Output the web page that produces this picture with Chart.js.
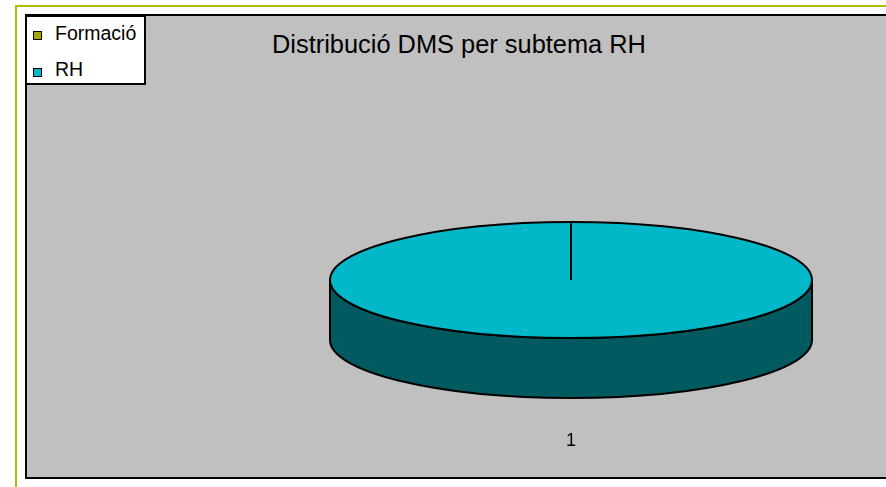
<!DOCTYPE html>
<html lang="ca">
<head>
<meta charset="utf-8">
<title>Distribució DMS per subtema RH</title>
<script src="https://cdn.jsdelivr.net/npm/chart.js@4/dist/chart.umd.min.js"></script>
<style>
  html, body { margin: 0; padding: 0; background: #fff; overflow: hidden; }
  body { width: 886px; height: 487px; position: relative; font-family: "Liberation Sans", Arial, sans-serif; }
  #marc { position: absolute; left: 15px; top: 5px; width: 900px; height: 500px;
          border-left: 2px solid #B0BA00; border-top: 2px solid #B0BA00; }
  #area { position: absolute; left: 25px; top: 14px; width: 900px; height: 461px;
          background: #C0C0C0; border: 2px solid #000; }
  #titol { position: absolute; left: 259px; top: 32px; width: 400px; text-align: center;
           font-size: 25.4px; line-height: 25px; color: #000; white-space: nowrap; }
  #llegenda { position: absolute; left: 26px; top: 16px; width: 117px; height: 66px;
              background: #fff; border: 1px solid #000; border-width: 1px 2px 2px 1px; }
  .item { position: absolute; left: 0; font-size: 19.5px; line-height: 19px; white-space: nowrap; }
  .quadre { position: absolute; width: 7px; height: 7px; border: 1px solid #000; }
  .text { position: absolute; left: 28px; top: 0; }
  #contenidor { position: absolute; left: 320px; top: 212px; width: 510px; height: 250px; }
</style>
</head>
<body>
<div id="marc"></div>
<div id="area"></div>
<div id="titol">Distribució DMS per subtema RH</div>
<div id="llegenda"></div>
<div id="contenidor"><canvas id="grafic"></canvas></div>
<script>
// dades del gràfic
const categories = ['Formació', 'RH'];
const valors = [0, 100];
const etiquetesEix = ['1'];

// estil
const colorsCara = ['#A0A800', '#00B8C8'];
const colorsLateral = ['#555900', '#005A60'];
const gruix = 60; // alçada del cilindre en px

// llegenda en html
const llegenda = document.getElementById('llegenda');
const filesTop = [7, 43];
categories.forEach((cat, i) => {
  const item = document.createElement('div');
  item.className = 'item';
  item.style.top = filesTop[i] + 'px';
  item.innerHTML = '<span class="quadre" style="left:6px;top:' + (i === 0 ? 7 : 8) + 'px;background:' + colorsCara[i] + '"></span>' +
    '<span class="text">' + cat + '</span>';
  llegenda.appendChild(item);
});

function geometria(chart) {
  const area = chart.chartArea;
  const arc = chart.getDatasetMeta(0).data[0];
  const rx = area.width / 2;
  const ry = (area.height - gruix) / 2;
  return {
    cx: (area.left + area.right) / 2,
    cy: area.top + ry,
    rx: rx,
    ry: ry,
    x0: arc.x,
    y0: arc.y,
    r: arc.outerRadius
  };
}

// tram visible (davanter) d'un sector: angles entre 0 i PI
function tramDavanter(s, e) {
  const trams = [];
  [-2, 0, 2].forEach(k => {
    const lo = Math.max(s, k * Math.PI);
    const hi = Math.min(e, Math.PI + k * Math.PI);
    if (hi > lo) trams.push([lo - k * Math.PI, hi - k * Math.PI]);
  });
  return trams;
}

const pastis3D = {
  id: 'pastis3D',
  beforeDatasetsDraw(chart) {
    const ctx = chart.ctx;
    const arcs = chart.getDatasetMeta(0).data;
    const g = geometria(chart);

    // lateral del cilindre
    ctx.save();
    ctx.lineWidth = 2;
    ctx.strokeStyle = '#000';
    arcs.forEach((arc, i) => {
      tramDavanter(arc.startAngle, arc.endAngle).forEach(([a, b]) => {
        ctx.beginPath();
        ctx.ellipse(g.cx, g.cy, g.rx, g.ry, 0, a, b);
        ctx.ellipse(g.cx, g.cy + gruix, g.rx, g.ry, 0, b, a, true);
        ctx.closePath();
        ctx.fillStyle = colorsLateral[i];
        ctx.fill();
        ctx.stroke();
      });
    });
    ctx.restore();

    // la cara de dalt la dibuixa Chart.js, aixafada
    ctx.save();
    ctx.translate(g.cx, g.cy);
    ctx.scale(g.rx / g.r, g.ry / g.r);
    ctx.translate(-g.x0, -g.y0);
  },
  afterDatasetsDraw(chart) {
    const ctx = chart.ctx;
    ctx.restore();
    const arcs = chart.getDatasetMeta(0).data;
    const g = geometria(chart);

    ctx.save();
    ctx.lineWidth = 2;
    ctx.strokeStyle = '#000';
    ctx.beginPath();
    ctx.ellipse(g.cx, g.cy, g.rx, g.ry, 0, 0, Math.PI * 2);
    ctx.stroke();
    // vores entre sectors
    arcs.forEach(arc => {
      ctx.beginPath();
      ctx.moveTo(g.cx, g.cy);
      ctx.lineTo(g.cx + g.rx * Math.cos(arc.startAngle), g.cy + g.ry * Math.sin(arc.startAngle));
      ctx.stroke();
    });
    // etiqueta de l'eix
    ctx.fillStyle = '#000';
    ctx.font = '18px "Liberation Sans", Arial, sans-serif';
    ctx.textAlign = 'center';
    ctx.textBaseline = 'alphabetic';
    ctx.fillText(etiquetesEix[0], g.cx, chart.chartArea.bottom + 48);
    ctx.restore();
  }
};

const ctx = document.getElementById('grafic').getContext('2d');
const chartInstance = new Chart(ctx, {
  type: 'pie',
  data: {
    labels: categories,
    datasets: [{
      data: valors,
      backgroundColor: colorsCara,
      borderWidth: 0,
      clip: false
    }]
  },
  options: {
    responsive: true,
    maintainAspectRatio: false,
    animation: false,
    events: [],
    layout: { padding: { left: 10, right: 18, top: 10, bottom: 64 } },
    plugins: {
      legend: { display: false },
      title: { display: false },
      tooltip: { enabled: false }
    }
  },
  plugins: [pastis3D]
});
</script>
</body>
</html>
